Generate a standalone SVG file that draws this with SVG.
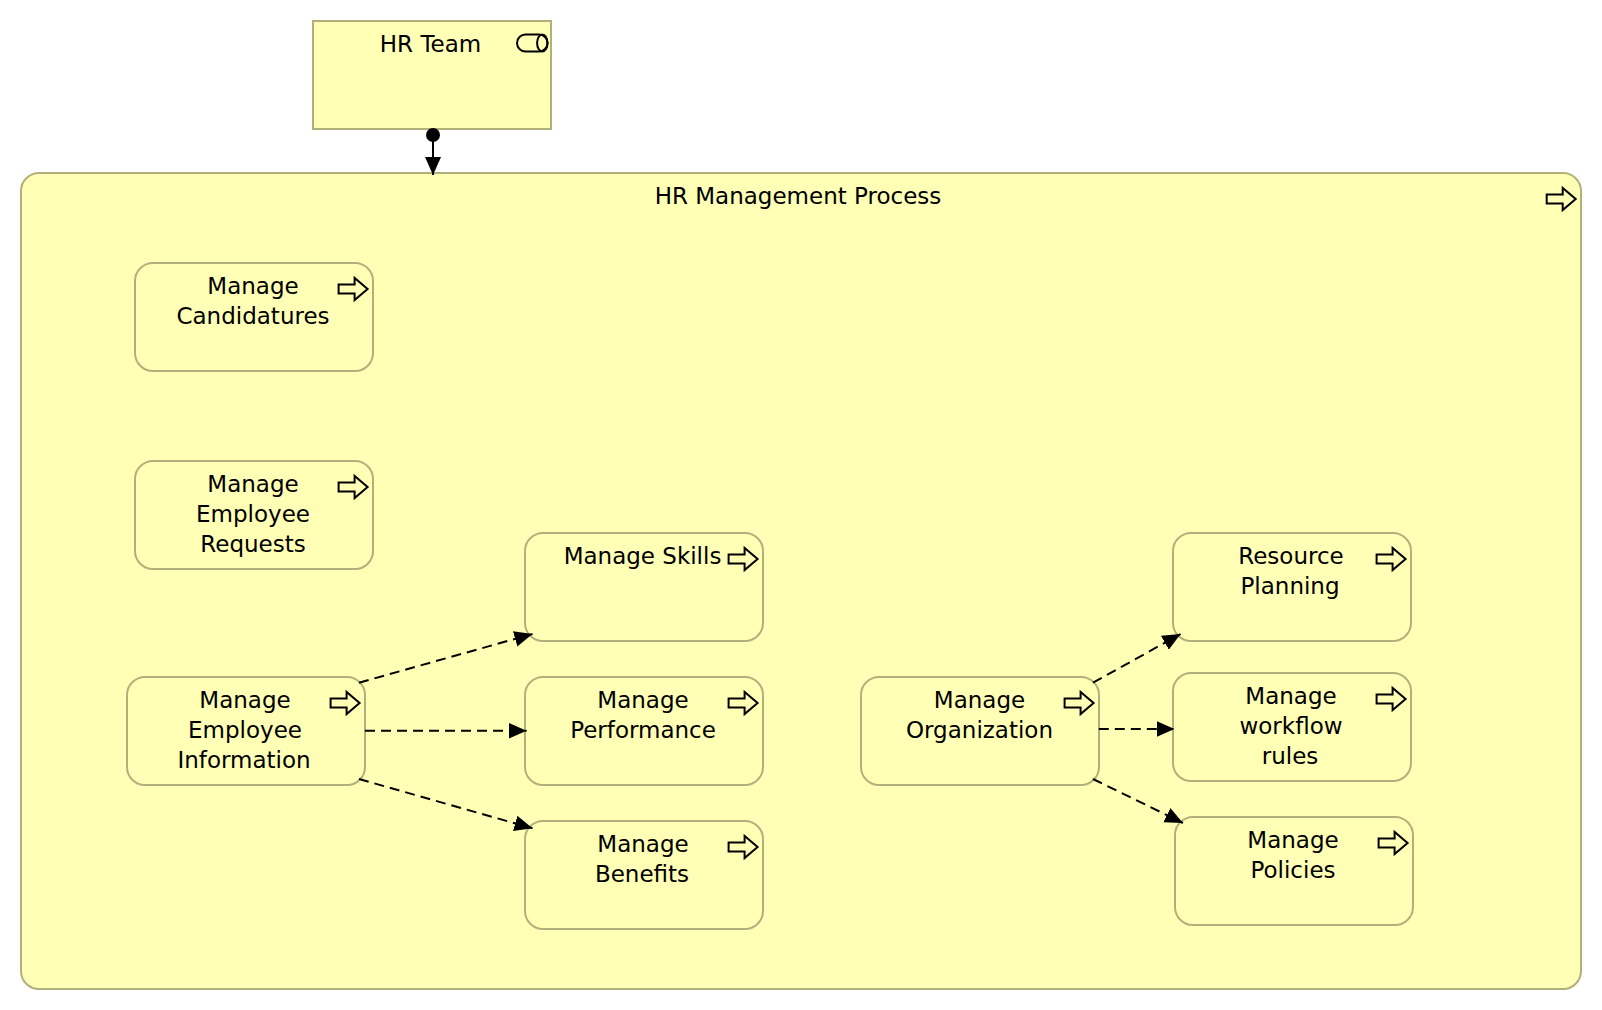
<svg xmlns="http://www.w3.org/2000/svg" width="1602" height="1010" viewBox="0 0 1602 1010">
<style>
.box{fill:#ffffb5;stroke:#b2b07a;stroke-width:2}
.t{font-family:"DejaVu Sans",sans-serif;font-size:23px;fill:#000;text-anchor:middle}
.i{fill:#ffffb5;stroke:#000;stroke-width:2}
.c{fill:none;stroke:#000;stroke-width:2}
.d{stroke-dasharray:10 6}
</style>
<defs>
<marker id="h" markerUnits="userSpaceOnUse" markerWidth="20" markerHeight="18" refX="18" refY="9" orient="auto"><path d="M0 1L18 9L0 17Z" fill="#000"/></marker>
<path id="a" d="M-29-4.5H-13V-11L0 0L-13 11V4.5H-29Z" class="i"/>
</defs>
<rect width="1602" height="1010" fill="#fff"/>
<g id="hr-team"><rect class="box" x="313" y="21" width="238" height="108"/><rect x="517" y="34.5" width="30.5" height="17" rx="8.5" fill="none" stroke="#000" stroke-width="2"/><ellipse cx="542.3" cy="43" rx="5.2" ry="8.5" fill="none" stroke="#000" stroke-width="2"/><text class="t" x="430.5" y="52">HR Team</text></g>
<g id="hr-process"><rect class="box" x="21" y="173" width="1560" height="816" rx="18"/><use href="#a" x="1575.7" y="199"/><text class="t" x="798" y="204">HR Management Process</text></g>
<g id="candidatures"><rect class="box" x="135" y="263" width="238" height="108" rx="18"/><use href="#a" x="367.6" y="289"/><text class="t" x="253" y="294">Manage</text><text class="t" x="253" y="324">Candidatures</text></g>
<g id="requests"><rect class="box" x="135" y="461" width="238" height="108" rx="18"/><use href="#a" x="367.6" y="487"/><text class="t" x="253" y="492">Manage</text><text class="t" x="253" y="522">Employee</text><text class="t" x="253" y="552">Requests</text></g>
<g id="information"><rect class="box" x="127" y="677" width="238" height="108" rx="18"/><use href="#a" x="359.6" y="703"/><text class="t" x="245" y="708">Manage</text><text class="t" x="245" y="738">Employee</text><text class="t" x="244" y="768">Information</text></g>
<g id="skills"><rect class="box" x="525" y="533" width="238" height="108" rx="18"/><use href="#a" x="757.6" y="559"/><text class="t" x="642.5" y="564">Manage Skills</text></g>
<g id="performance"><rect class="box" x="525" y="677" width="238" height="108" rx="18"/><use href="#a" x="757.6" y="703"/><text class="t" x="643" y="708">Manage</text><text class="t" x="643" y="738">Performance</text></g>
<g id="benefits"><rect class="box" x="525" y="821" width="238" height="108" rx="18"/><use href="#a" x="757.6" y="847"/><text class="t" x="643" y="852">Manage</text><text class="t" x="642" y="882">Benefits</text></g>
<g id="organization"><rect class="box" x="861" y="677" width="238" height="108" rx="18"/><use href="#a" x="1093.6" y="703"/><text class="t" x="979.5" y="708">Manage</text><text class="t" x="979.5" y="738">Organization</text></g>
<g id="resource"><rect class="box" x="1173" y="533" width="238" height="108" rx="18"/><use href="#a" x="1405.6" y="559"/><text class="t" x="1291" y="564">Resource</text><text class="t" x="1290" y="594">Planning</text></g>
<g id="workflow"><rect class="box" x="1173" y="673" width="238" height="108" rx="18"/><use href="#a" x="1405.6" y="699"/><text class="t" x="1291" y="704">Manage</text><text class="t" x="1291" y="734">workflow</text><text class="t" x="1290" y="764">rules</text></g>
<g id="policies"><rect class="box" x="1175" y="817" width="238" height="108" rx="18"/><use href="#a" x="1407.6" y="843"/><text class="t" x="1293" y="848">Manage</text><text class="t" x="1293" y="878">Policies</text></g>
<g id="connectors">
<circle cx="433" cy="135" r="7"/>
<path class="c" d="M433 135V175" marker-end="url(#h)"/>
<path class="c d" d="M359 682.7L532.5 634" marker-end="url(#h)"/>
<path class="c d" d="M365 730.7H526.6" marker-end="url(#h)"/>
<path class="c d" d="M359 779L532.5 828.3" marker-end="url(#h)"/>
<path class="c d" d="M1093 682.7L1180.6 634" marker-end="url(#h)"/>
<path class="c d" d="M1098.8 729H1174.5" marker-end="url(#h)"/>
<path class="c d" d="M1093 779L1183 823" marker-end="url(#h)"/>
</g>
</svg>
